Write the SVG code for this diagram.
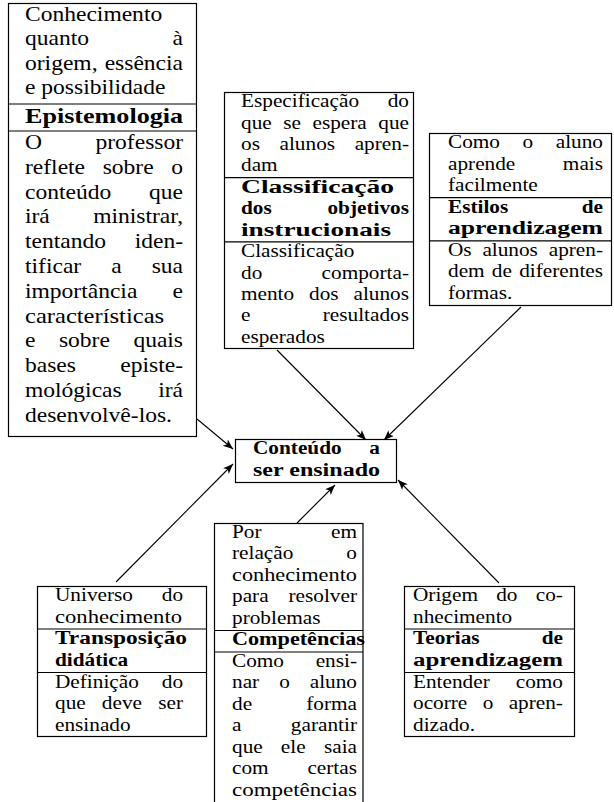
<svg xmlns="http://www.w3.org/2000/svg" width="614" height="802" viewBox="0 0 614 802">
<defs>
<style>
.t{font-family:"Liberation Serif","Times New Roman",serif;font-size:19px;fill:#000}
.t1{font-size:22px}
.b{font-weight:bold}
.box{fill:#fff;stroke:#000;stroke-width:1.2}
.div{stroke:#000;stroke-width:1.2}
.con{stroke:#000;stroke-width:1.1;fill:none;marker-end:url(#arr)}
</style>
<marker id="arr" markerUnits="userSpaceOnUse" markerWidth="11" markerHeight="9" refX="10" refY="4" orient="auto">
<path d="M0,0 L10,4 L0,8 L2.5,4 z" fill="#000"/>
</marker>
</defs>
<rect width="614" height="802" fill="#fff"/>

<g id="connectors">
<line class="con" x1="197" y1="419" x2="233" y2="449"/>
<line class="con" x1="277" y1="350" x2="366" y2="440"/>
<line class="con" x1="521" y1="307" x2="384" y2="440"/>
<line class="con" x1="116" y1="582" x2="233" y2="464"/>
<line class="con" x1="297" y1="523" x2="335" y2="485"/>
<line class="con" x1="499" y1="583" x2="398" y2="480"/>
</g>

<g id="epistemologia">
<rect class="box" x="8.5" y="3.5" width="188" height="433"/>
<line class="div" x1="8.5" y1="104" x2="196.5" y2="104"/>
<line class="div" x1="8.5" y1="131" x2="196.5" y2="131"/>
<g transform="translate(25,0) scale(1.07,1)">
<text class="t t1" x="0" y="21">Conhecimento</text>
<text class="t t1" y="45.5"><tspan x="0">quanto</tspan><tspan x="147.7" text-anchor="end">à</tspan></text>
<text class="t t1" y="70"><tspan x="0">origem,</tspan><tspan x="147.7" text-anchor="end">essência</tspan></text>
<text class="t t1" x="0" y="94.5">e possibilidade</text>
<text class="t t1 b" x="0" y="123" textLength="147.7" lengthAdjust="spacingAndGlyphs">Epistemologia</text>
<text class="t t1" y="149"><tspan x="0">O</tspan><tspan x="147.7" text-anchor="end">professor</tspan></text>
<text class="t t1" y="173.8"><tspan x="0">reflete</tspan><tspan x="72.6">sobre</tspan><tspan x="147.7" text-anchor="end">o</tspan></text>
<text class="t t1" y="198.6"><tspan x="0">conteúdo</tspan><tspan x="147.7" text-anchor="end">que</tspan></text>
<text class="t t1" y="223.4"><tspan x="0">irá</tspan><tspan x="147.7" text-anchor="end">ministrar,</tspan></text>
<text class="t t1" y="248.2"><tspan x="0">tentando</tspan><tspan x="147.7" text-anchor="end">iden-</tspan></text>
<text class="t t1" y="273"><tspan x="0">tificar</tspan><tspan x="80.5">a</tspan><tspan x="147.7" text-anchor="end">sua</tspan></text>
<text class="t t1" y="297.8"><tspan x="0">importância</tspan><tspan x="147.7" text-anchor="end">e</tspan></text>
<text class="t t1" x="0" y="322.6" textLength="130" lengthAdjust="spacingAndGlyphs">características</text>
<text class="t t1" y="347.4"><tspan x="0">e</tspan><tspan x="31.7">sobre</tspan><tspan x="147.7" text-anchor="end">quais</tspan></text>
<text class="t t1" y="372.2"><tspan x="0">bases</tspan><tspan x="147.7" text-anchor="end">episte-</tspan></text>
<text class="t t1" y="397"><tspan x="0">mológicas</tspan><tspan x="147.7" text-anchor="end">irá</tspan></text>
<text class="t t1" x="0" y="421.8">desenvolvê-los.</text>
</g>
</g>

<g id="objetivos">
<rect class="box" x="224.5" y="92.5" width="189" height="256"/>
<line class="div" x1="224.5" y1="177.6" x2="413.5" y2="177.6"/>
<line class="div" x1="224.5" y1="241.9" x2="413.5" y2="241.9"/>
<g transform="translate(241,0) scale(1.12,1)">
<text class="t" y="107.5"><tspan x="0">Especificação</tspan><tspan x="150" text-anchor="end">do</tspan></text>
<text class="t" y="128.8"><tspan x="0">que</tspan><tspan x="37.7">se</tspan><tspan x="63.8">espera</tspan><tspan x="150" text-anchor="end">que</tspan></text>
<text class="t" y="150.1"><tspan x="0">os</tspan><tspan x="34.4">alunos</tspan><tspan x="150" text-anchor="end">apren-</tspan></text>
<text class="t" x="0" y="171.4">dam</text>
<text class="t b" x="0" y="193.1" textLength="136.6" lengthAdjust="spacingAndGlyphs">Classificação</text>
<text class="t b" y="214.4"><tspan x="0">dos</tspan><tspan x="150" text-anchor="end">objetivos</tspan></text>
<text class="t b" x="0" y="235.7" textLength="134" lengthAdjust="spacingAndGlyphs">instrucionais</text>
<text class="t" x="0" y="257.4">Classificação</text>
<text class="t" y="278.7"><tspan x="0">do</tspan><tspan x="150" text-anchor="end">comporta-</tspan></text>
<text class="t" y="300"><tspan x="0">mento</tspan><tspan x="60.75">dos</tspan><tspan x="150" text-anchor="end">alunos</tspan></text>
<text class="t" y="321.3"><tspan x="0">e</tspan><tspan x="150" text-anchor="end">resultados</tspan></text>
<text class="t" x="0" y="342.6">esperados</text>
</g>
</g>

<g id="estilos">
<rect class="box" x="429.5" y="133.5" width="182" height="172"/>
<line class="div" x1="429.5" y1="197.7" x2="611.5" y2="197.7"/>
<line class="div" x1="429.5" y1="240.8" x2="611.5" y2="240.8"/>
<g transform="translate(448,0) scale(1.12,1)">
<text class="t" y="148"><tspan x="0">Como</tspan><tspan x="66.6">o</tspan><tspan x="138.4" text-anchor="end">aluno</tspan></text>
<text class="t" y="169.6"><tspan x="0">aprende</tspan><tspan x="138.4" text-anchor="end">mais</tspan></text>
<text class="t" x="0" y="191.2">facilmente</text>
<text class="t b" y="212.7"><tspan x="0">Estilos</tspan><tspan x="138.4" text-anchor="end">de</tspan></text>
<text class="t b" x="0" y="234.3" textLength="138.4" lengthAdjust="spacingAndGlyphs">aprendizagem</text>
<text class="t" y="255.8"><tspan x="0">Os</tspan><tspan x="30.7">alunos</tspan><tspan x="138.4" text-anchor="end">apren-</tspan></text>
<text class="t" y="277.4"><tspan x="0">dem</tspan><tspan x="39.15">de</tspan><tspan x="138.4" text-anchor="end">diferentes</tspan></text>
<text class="t" x="0" y="299">formas.</text>
</g>
</g>

<g id="conteudo">
<rect class="box" x="235.5" y="439.5" width="161" height="43"/>
<g transform="translate(253,0) scale(1.12,1)">
<text class="t b" y="454.5"><tspan x="0">Conteúdo</tspan><tspan x="113.4" text-anchor="end">a</tspan></text>
<text class="t b" x="0" y="476" textLength="113.4" lengthAdjust="spacingAndGlyphs">ser ensinado</text>
</g>
</g>

<g id="transposicao">
<rect class="box" x="37.5" y="586.5" width="169" height="150"/>
<line class="div" x1="37.5" y1="629" x2="206.5" y2="629"/>
<line class="div" x1="37.5" y1="672.5" x2="206.5" y2="672.5"/>
<g transform="translate(55,0) scale(1.12,1)">
<text class="t" y="601"><tspan x="0">Universo</tspan><tspan x="114.3" text-anchor="end">do</tspan></text>
<text class="t" x="0" y="622.5" textLength="113.4" lengthAdjust="spacingAndGlyphs">conhecimento</text>
<text class="t b" x="0" y="644.5" textLength="117.9" lengthAdjust="spacingAndGlyphs">Transposição</text>
<text class="t b" x="0" y="666">didática</text>
<text class="t" y="688"><tspan x="0">Definição</tspan><tspan x="114.3" text-anchor="end">do</tspan></text>
<text class="t" y="709.5"><tspan x="0">que</tspan><tspan x="41.8">deve</tspan><tspan x="114.3" text-anchor="end">ser</tspan></text>
<text class="t" x="0" y="731">ensinado</text>
</g>
</g>

<g id="competencias">
<rect class="box" x="214.5" y="523.5" width="148.5" height="290"/>
<line class="div" x1="214.5" y1="630.5" x2="363" y2="630.5"/>
<line class="div" x1="214.5" y1="652" x2="363" y2="652"/>
<g transform="translate(232,0) scale(1.12,1)">
<text class="t" y="538"><tspan x="0">Por</tspan><tspan x="111.6" text-anchor="end">em</tspan></text>
<text class="t" y="559.5"><tspan x="0">relação</tspan><tspan x="111.6" text-anchor="end">o</tspan></text>
<text class="t" x="0" y="581" textLength="111.6" lengthAdjust="spacingAndGlyphs">conhecimento</text>
<text class="t" y="602.5"><tspan x="0">para</tspan><tspan x="111.6" text-anchor="end">resolver</tspan></text>
<text class="t" x="0" y="624">problemas</text>
<text class="t b" x="0" y="645.5" textLength="118.75" lengthAdjust="spacingAndGlyphs">Competências</text>
<text class="t" y="667"><tspan x="0">Como</tspan><tspan x="111.6" text-anchor="end">ensi-</tspan></text>
<text class="t" y="688.5"><tspan x="0">nar</tspan><tspan x="42.1">o</tspan><tspan x="111.6" text-anchor="end">aluno</tspan></text>
<text class="t" y="710"><tspan x="0">de</tspan><tspan x="111.6" text-anchor="end">forma</tspan></text>
<text class="t" y="731.5"><tspan x="0">a</tspan><tspan x="111.6" text-anchor="end">garantir</tspan></text>
<text class="t" y="753"><tspan x="0">que</tspan><tspan x="43.65">ele</tspan><tspan x="111.6" text-anchor="end">saia</tspan></text>
<text class="t" y="774.5"><tspan x="0">com</tspan><tspan x="111.6" text-anchor="end">certas</tspan></text>
<text class="t" x="0" y="796" textLength="111.6" lengthAdjust="spacingAndGlyphs">competências</text>
</g>
</g>

<g id="teorias">
<rect class="box" x="404.5" y="586.5" width="170" height="150"/>
<line class="div" x1="404.5" y1="629" x2="574.5" y2="629"/>
<line class="div" x1="404.5" y1="672.5" x2="574.5" y2="672.5"/>
<g transform="translate(413,0) scale(1.12,1)">
<text class="t" y="601"><tspan x="0">Origem</tspan><tspan x="74.3">do</tspan><tspan x="133.9" text-anchor="end">co-</tspan></text>
<text class="t" x="0" y="622.5">nhecimento</text>
<text class="t b" y="644.5"><tspan x="0">Teorias</tspan><tspan x="133.9" text-anchor="end">de</tspan></text>
<text class="t b" x="0" y="666" textLength="133.9" lengthAdjust="spacingAndGlyphs">aprendizagem</text>
<text class="t" y="688"><tspan x="0">Entender</tspan><tspan x="133.9" text-anchor="end">como</tspan></text>
<text class="t" y="709.5"><tspan x="0">ocorre</tspan><tspan x="62.2">o</tspan><tspan x="133.9" text-anchor="end">apren-</tspan></text>
<text class="t" x="0" y="731">dizado.</text>
</g>
</g>
</svg>
